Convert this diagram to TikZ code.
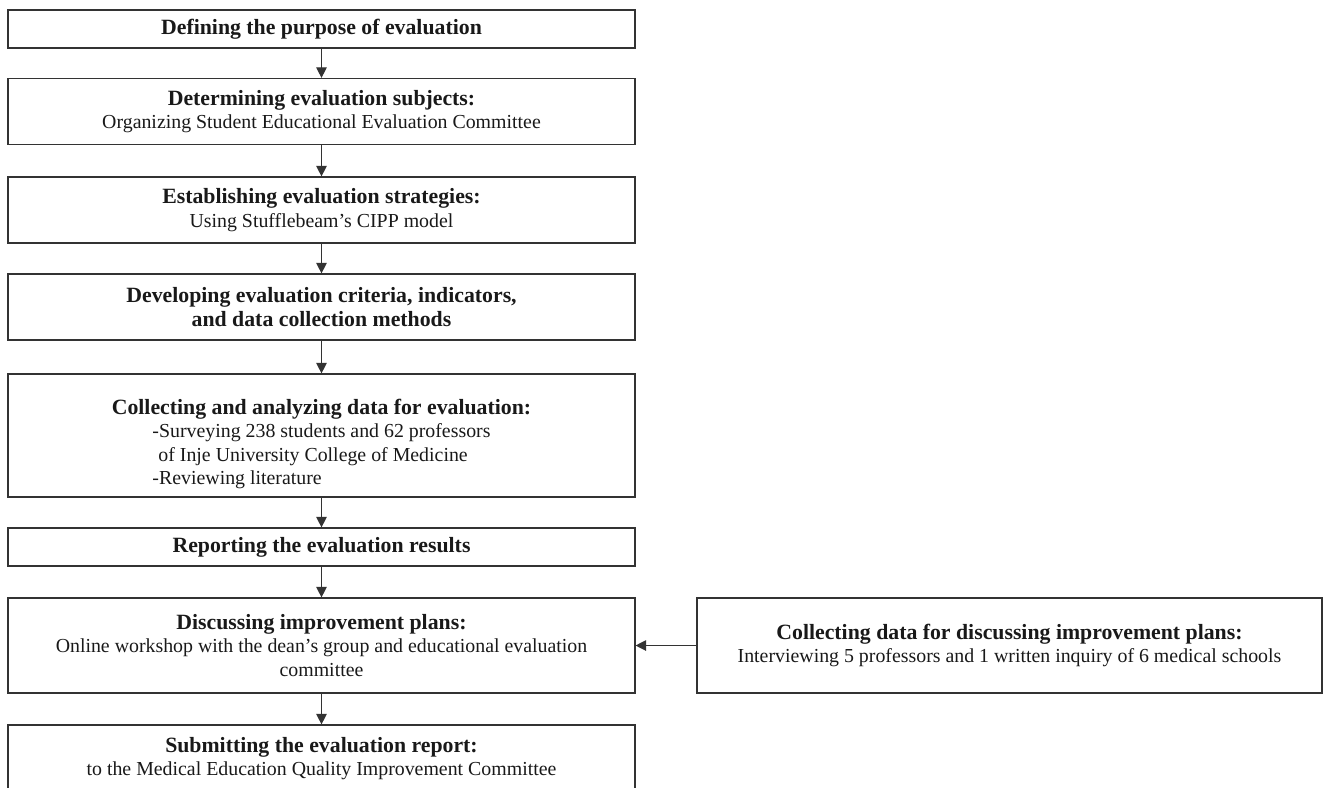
\documentclass[tikz,border=0pt]{standalone}
\usepackage{fontspec}
\setmainfont{Liberation Serif}
\usepackage{tikz}
\usetikzlibrary{arrows.meta}
\newcommand\hd[1]{{\fontsize{12.4}{13.5}\selectfont\bfseries #1}}

\begin{document}
\begin{tikzpicture}[x=0.02cm,y=-0.02cm,
    stage/.style={rectangle,draw=black!80,line width=0.7pt,align=center,
      minimum width=12.54cm,inner sep=2pt,
      font=\fontsize{11.3}{13.5}\selectfont,text=black!90},
    side/.style={stage,minimum width=12.5cm}]
      \useasboundingbox (0,0) rectangle (1323,788);
      \begin{scope}
        \node[stage,minimum height=0.76cm] (0) at (321.5,29)    {\hd{Defining the purpose of evaluation}};
        \node[stage,minimum height=1.32cm] (1) at (321.5,111.5)   {\hd{Determining evaluation subjects:}\\Organizing Student Educational Evaluation Committee};
        \node[stage,minimum height=1.32cm] (2) at (321.5,210)    {\hd{Establishing evaluation strategies:}\\Using Stufflebeam's CIPP model};
        \node[stage,minimum height=1.32cm] (3) at (321.5,307)    {\hd{Developing evaluation criteria, indicators,}\\\hd{and data collection methods}};
        \node[stage,minimum height=2.46cm] (4) at (321.5,435.5)    {\rule{0pt}{20pt}\hd{Collecting and analyzing data for evaluation:}\\
          \begin{tabular}{@{}l@{}}-Surveying 238 students and 62 professors\\\hspace{0.3em}of Inje University College of Medicine\\-Reviewing literature\end{tabular}};
        \node[stage,minimum height=0.76cm] (5) at (321.5,547)    {\hd{Reporting the evaluation results}};
        \node[stage,minimum height=1.9cm] (6) at (321.5,645.5)    {\hd{Discussing improvement plans:}\\Online workshop with the dean's group and educational evaluation\\committee};
        \node[stage,minimum height=1.34cm] (7) at (321.5,758.5)    {\hd{Submitting the evaluation report:}\\to the Medical Education Quality Improvement Committee};
        \node[side,minimum height=1.9cm] (8) at (1009.5,645.5)    {\hd{Collecting data for discussing improvement plans:}\\Interviewing 5 professors and 1 written inquiry of 6 medical schools};
      \end{scope}
      \begin{scope}[>={Triangle[length=6pt,width=6pt]},every edge/.style={draw=black!80,line width=0.7pt}]
        \path[->] (0) edge (1);
        \path[->] (1) edge (2);
        \path[->] (2) edge (3);
        \path[->] (3) edge (4);
        \path[->] (4) edge (5);
        \path[->] (5) edge (6);
        \path[->] (6) edge (7);
        \path[->] (8) edge (6);
      \end{scope}
    \end{tikzpicture}
\end{document}
